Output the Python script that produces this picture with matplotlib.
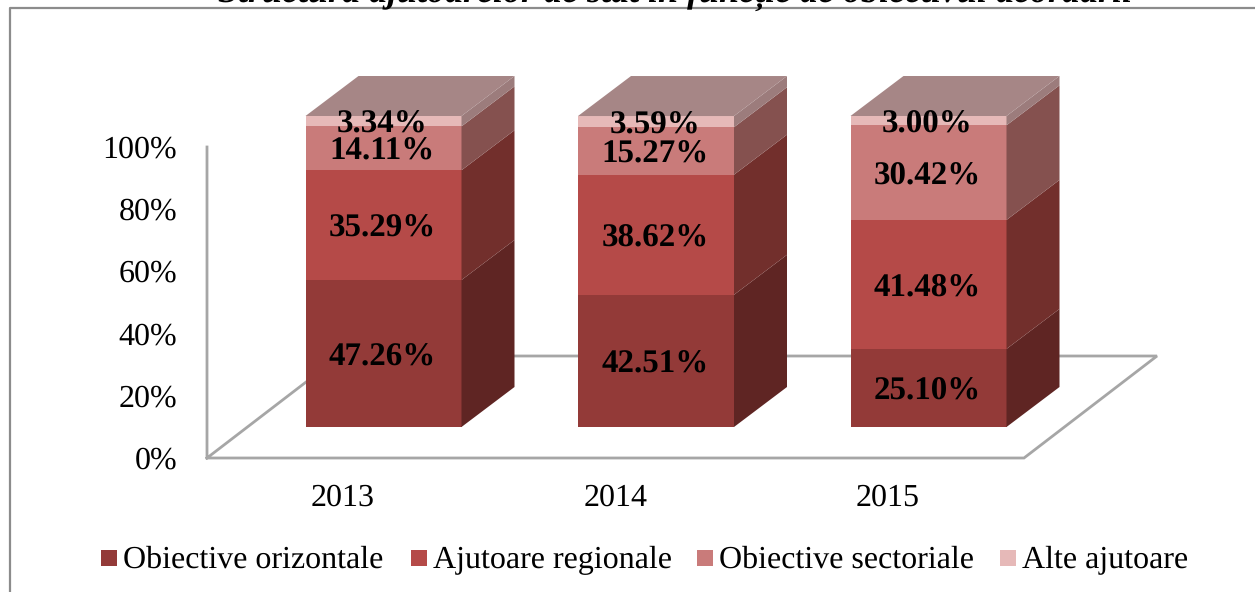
import matplotlib
matplotlib.use("Agg")
import matplotlib.pyplot as plt
from matplotlib.patches import Polygon, Rectangle

# values (percent, bottom to top)
years = ["2013", "2014", "2015"]
orizontale = [47.26, 42.51, 25.10]
regionale = [35.29, 38.62, 41.48]
sectoriale = [14.11, 15.27, 30.42]
alte = [3.34, 3.59, 3.00]
series_names = ["Obiective orizontale", "Ajutoare regionale", "Obiective sectoriale", "Alte ajutoare"]
y_ticks = [0, 20, 40, 60, 80, 100]
title_text = "Structura ajutoarelor de stat în funcție de obiectivul acordării"

front_colors = ["#933A38", "#B54A48", "#C97B7A", "#E6B9B8"]
side_colors = ["#5F2523", "#722F2C", "#85514F", "#9C7C7C"]
top_color = "#A68686"
line_color = "#A6A6A6"

W, H = 1255, 592
plt.rcParams["font.family"] = ["Liberation Serif", "DejaVu Serif"]
plt.rcParams["text.hinting"] = "none"
plt.rcParams["text.hinting_factor"] = 1

fig = plt.figure(figsize=(W / 100, H / 100), dpi=100)
ax = fig.add_axes([0, 0, 1, 1])

# data axes span the whole image: one category = 272.5 px, 1% = 3.11 px
px_cat = 272.5
px_pct = 3.11
x0_px = 383.5
y0_px = 427
ax.set_xlim(-x0_px / px_cat, (W - x0_px) / px_cat)
ax.set_ylim(-(H - y0_px) / px_pct, y0_px / px_pct)
ax.axis("off")

bar_w = 156 / px_cat
dx = 53 / px_cat   # 3d depth
dy = 40 / px_pct


def px(x, y):
    # image pixels -> data coords, only for frame and floor lines
    return (x - x0_px) / px_cat, (y0_px - y) / px_pct


# outer frame, clipped by the image at right and bottom
fx = [px(10, H + 5), px(10, 8), px(W + 5, 8)]
ax.plot(*zip(*fx), color="#8C8C8C", lw=1.6, zorder=1)

# wall and floor
wall = [px(207, 147), px(207, 458), px(1024, 458), px(1157, 356), px(340, 356), px(207, 458)]
ax.plot(*zip(*wall), color=line_color, lw=2, zorder=1, solid_joinstyle="miter")

series = [orizontale, regionale, sectoriale, alte]
for i, year in enumerate(years):
    bottom = 0
    left = i - bar_w / 2
    right = i + bar_w / 2
    for s, vals in enumerate(series):
        v = vals[i]
        ax.add_patch(Rectangle((left, bottom), bar_w, v, fc=front_colors[s], ec="none", zorder=3))
        ax.add_patch(Polygon([(right, bottom), (right + dx, bottom + dy),
                              (right + dx, bottom + v + dy), (right, bottom + v)],
                             fc=side_colors[s], ec="none", zorder=3))
        bottom += v
    ax.add_patch(Polygon([(left, bottom), (left + dx, bottom + dy),
                          (right + dx, bottom + dy), (right, bottom)],
                         fc=top_color, ec="none", zorder=3))
    # data labels
    bottom = 0
    for s, vals in enumerate(series):
        v = vals[i]
        ax.text(i - 0.004, bottom + v / 2 - 1.2, f"{v:.2f}%", ha="center", va="center",
                fontsize=23.8, fontweight="bold", color="black", zorder=5)
        bottom += v
    ax.text(i - 0.15, px(0, 498)[1], year, ha="center", va="center", fontsize=23, color="black")

# y tick labels sit on the back wall
for t in y_ticks:
    ax.text(px(177, 0)[0], t - 10.9, f"{t}%", ha="right", va="center", fontsize=22.8, color="black")

# legend, hand placed like the original
leg_sq = [101, 411, 697, 1000]
for s, name in enumerate(series_names):
    ax.add_patch(Rectangle(px(leg_sq[s], 566), 16 / px_cat, 16 / px_pct, fc=front_colors[s], ec="none"))
    ax.text(px(leg_sq[s] + 22, 0)[0], px(0, 560)[1], name, ha="left", va="center", fontsize=23, color="black")

# title, cut by the top of the image
ax.text(px(675, 0)[0], px(0, 2)[1], title_text, ha="center", va="baseline", fontsize=25.6,
        fontweight="bold", fontstyle="italic", color="black", clip_on=False)

fig.savefig("out.png", dpi=100)
